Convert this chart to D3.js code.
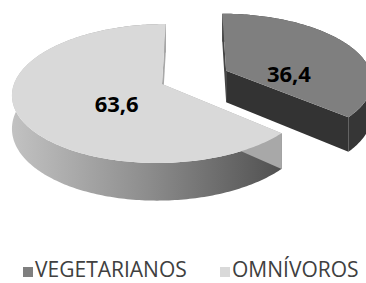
<!DOCTYPE html>
<html><head><meta charset="utf-8">
<script src="https://cdn.jsdelivr.net/npm/d3@7"></script>
<style>html,body{margin:0;padding:0;background:#fff;overflow:hidden}</style>
</head><body>
<svg id="chart" width="366" height="283"></svg>
<script>
// ---- data ----
const categories = ["VEGETARIANOS", "OMNÍVOROS"];
const values = [36.4, 63.6];
const valueLabels = ["36,4", "63,6"];

// ---- style / layout ----
const topColors = ["#7f7f7f", "#d9d9d9"];
const explode = [0.483, 0];
const labelPlace = [{r: 0.434, deg: 96.7}, {r: 0.402, deg: 225.4}];
const legendX = [23, 220];

const svg = d3.select("#chart");
const defs = svg.append("defs");

// perspective projection of the pie's ground plane (unit radius)
const P = {cx: 162, cy: 84, a: 148, b: -26.4, d: 56.7, g: -0.1367, T: 32.5};
function proj(u, v) {
  const w = 1 + P.g * v;
  return [(P.a * u + P.b * v + P.cx) / w, (P.d * v + P.cy) / w, w];
}
function projB(u, v) { const p = proj(u, v); return [p[0], p[1] + P.T / p[2]]; }

const pie = d3.pie().sort(null).value(d => d)(values);
const slices = pie.map((p, i) => {
  const mid = (p.startAngle + p.endAngle) / 2;
  return Object.assign({}, p, {i, ou: explode[i] * Math.sin(mid), ov: -explode[i] * Math.cos(mid)});
});
function g(s, ang, r) { r = r === undefined ? 1 : r; return [s.ou + r * Math.sin(ang), s.ov - r * Math.cos(ang)]; }
const line = d3.line();
function arcPts(s, bottom) {
  const n = Math.max(8, Math.ceil((s.endAngle - s.startAngle) / (Math.PI / 180)));
  return d3.range(n + 1).map(k => {
    const a = s.startAngle + (s.endAngle - s.startAngle) * k / n;
    const q = g(s, a);
    return bottom ? projB(q[0], q[1]) : proj(q[0], q[1]).slice(0, 2);
  });
}

// gradient for omnivoros side
const grad = defs.append("linearGradient").attr("id", "sideGrad")
  .attr("gradientUnits", "userSpaceOnUse").attr("x1", 12).attr("x2", 282).attr("y1", 0).attr("y2", 0);
grad.append("stop").attr("offset", 0).attr("stop-color", "#c2c2c2");
grad.append("stop").attr("offset", 0.5).attr("stop-color", "#8d8d8d");
grad.append("stop").attr("offset", 1).attr("stop-color", "#505050");

const sideFill = ["#363636", "url(#sideGrad)"];
const cutFill = [["#454545", "#333333"], ["#a8a8a8", "#a8a8a8"]];

slices.forEach(s => {
  const grp = svg.append("g");
  const top = arcPts(s, false), bot = arcPts(s, true);
  const c = proj(s.ou, s.ov).slice(0, 2), cb = projB(s.ou, s.ov);
  grp.append("path").attr("d", line(top.concat(bot.slice().reverse())) + "Z").attr("fill", sideFill[s.i]);
  [[top[0], bot[0]], [top[top.length - 1], bot[bot.length - 1]]].forEach((e, k) => {
    grp.append("path").attr("d", line([c, e[0], e[1], cb]) + "Z").attr("fill", cutFill[s.i][k]);
  });
  grp.append("path").attr("d", line([c].concat(top)) + "Z").attr("fill", topColors[s.i]);
});

// value labels
slices.forEach(s => {
  const lp = labelPlace[s.i];
  const q = g(s, lp.deg * Math.PI / 180, lp.r);
  const p = proj(q[0], q[1]);
  svg.append("text").attr("x", p[0]).attr("y", p[1] + 8)
    .attr("text-anchor", "middle")
    .attr("font-family", "'Open Sans', sans-serif").attr("font-weight", "bold")
    .attr("font-size", 22).attr("fill", "#000").text(valueLabels[s.i]);
});

// legend
const leg = svg.append("g");
categories.forEach((c, i) => {
  leg.append("rect").attr("x", legendX[i]).attr("y", 267).attr("width", 10).attr("height", 10).attr("fill", topColors[i]);
  leg.append("text").attr("x", legendX[i] + 12).attr("y", 277)
    .attr("font-family", "'Open Sans', sans-serif").attr("font-size", 21).attr("fill", "#404040").text(c);
});
</script>
</body></html>
